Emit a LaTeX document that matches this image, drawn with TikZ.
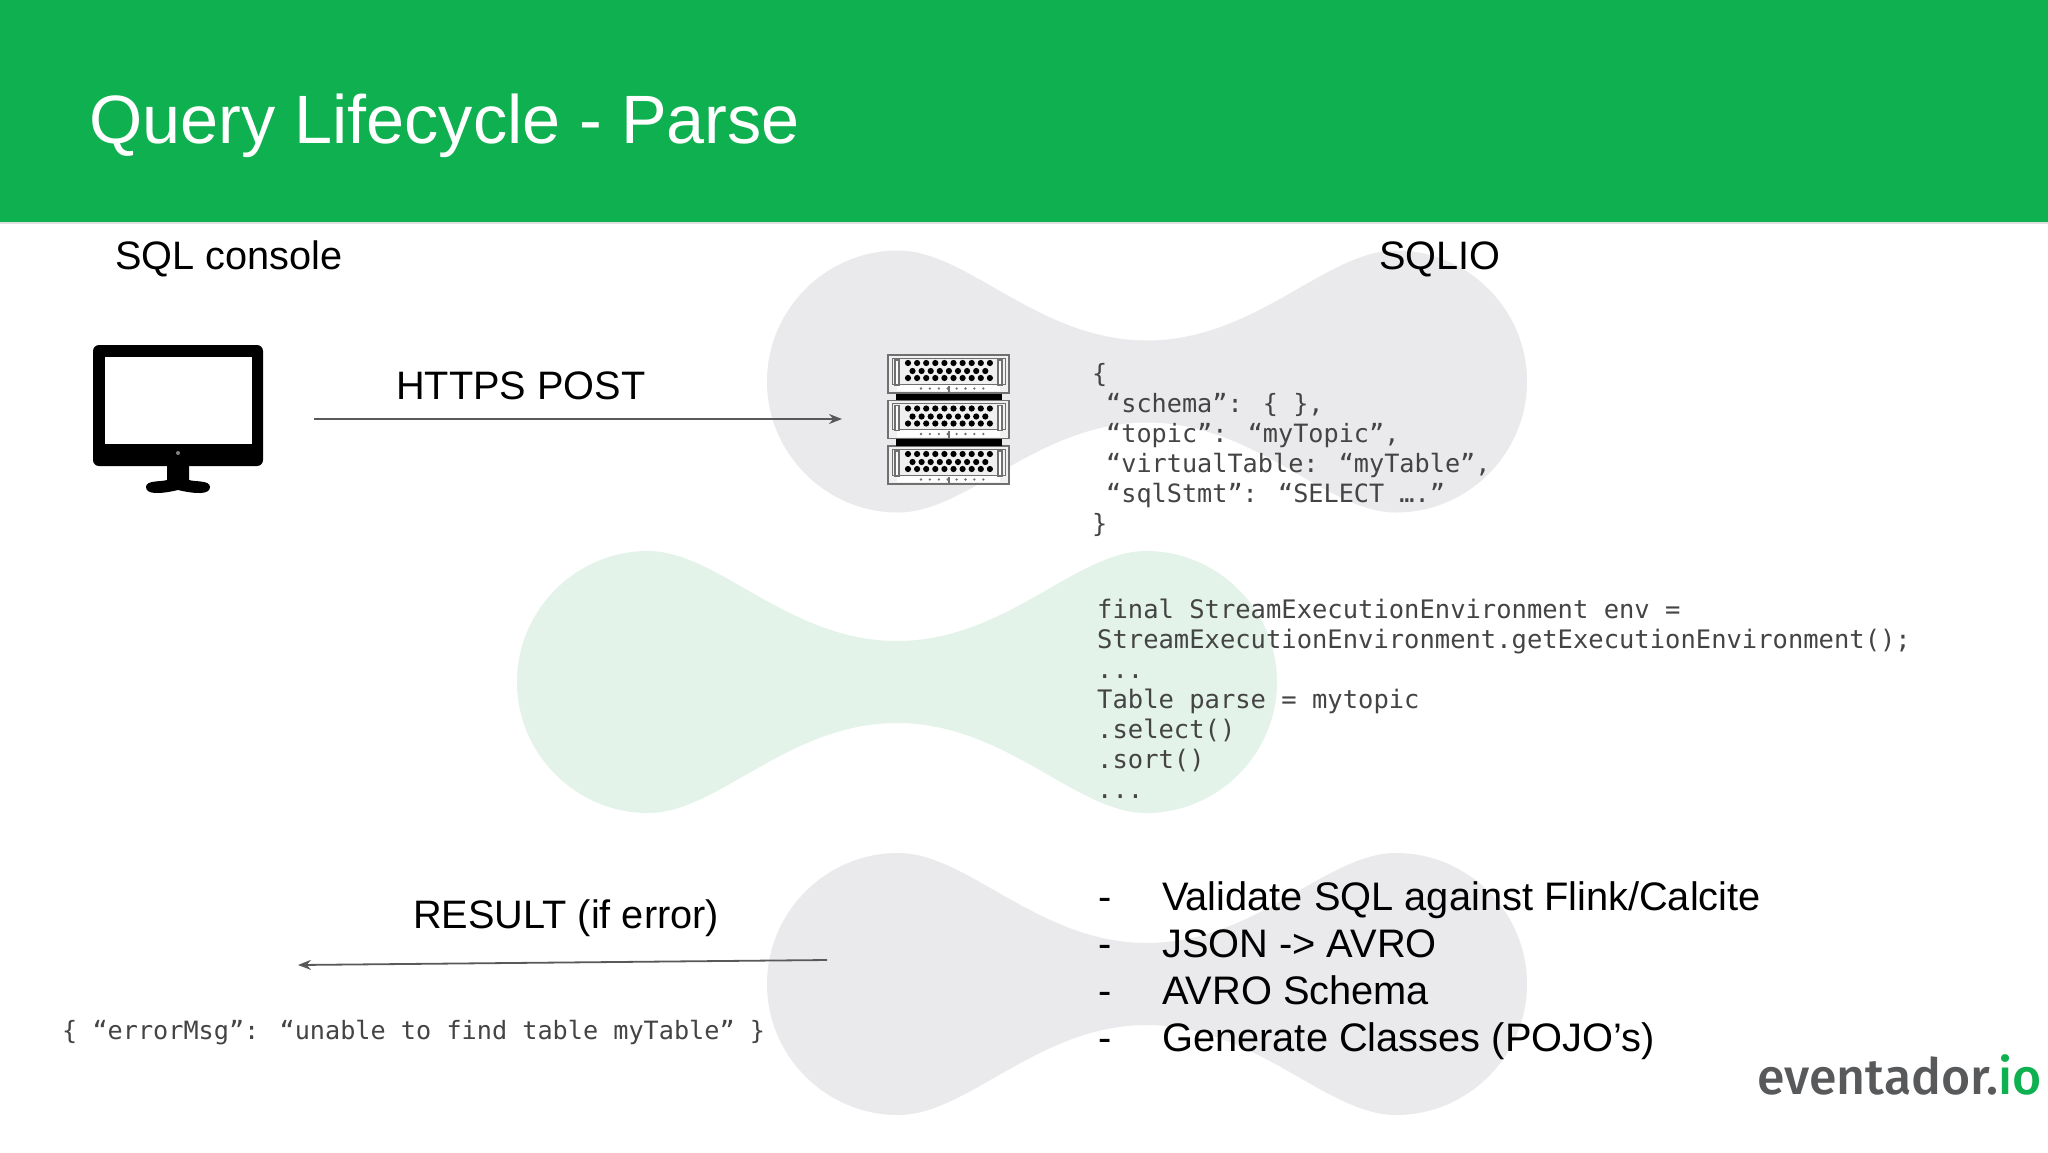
\documentclass[tikz,border=0pt]{standalone}
\usepackage{fontspec}
\setmainfont{Liberation Sans}
\newfontfamily\codefont{DejaVu Sans Mono}
\newfontfamily\logofont{Fira Sans Medium}
\usetikzlibrary{arrows.meta}
\definecolor{hdr}{HTML}{0EB04F}
\definecolor{blobgray}{HTML}{EAE9EB}
\definecolor{blobgreen}{HTML}{E3F3EA}
\definecolor{arrowgray}{HTML}{595959}
\definecolor{codegray}{HTML}{444444}
\definecolor{logogray}{HTML}{58595B}
\definecolor{framegray}{HTML}{707070}
\newcommand{\bonepath}[4]{%
 \fill[#4] (#1-131,#3) .. controls (#1-131,#3-72) and (#1-72,#3-131) .. (#1,#3-131)
 .. controls (#1+70,#3-131) and (#1+140,#3-41) .. ({(#1+#2)/2},#3-41)
 .. controls (#2-140,#3-41) and (#2-70,#3-131) .. (#2,#3-131)
 .. controls (#2+72,#3-131) and (#2+131,#3-72) .. (#2+131,#3)
 .. controls (#2+131,#3+72) and (#2+72,#3+131) .. (#2,#3+131)
 .. controls (#2-70,#3+131) and (#2-140,#3+41) .. ({(#1+#2)/2},#3+41)
 .. controls (#1+140,#3+41) and (#1+70,#3+131) .. (#1,#3+131)
 .. controls (#1-72,#3+131) and (#1-131,#3+72) .. (#1-131,#3) -- cycle;}
\newcommand{\rackunit}[1]{%
 \fill[white!94!black] (888,#1) rectangle (1009,#1+38);
 \fill[white] (897,#1+29) rectangle (1000,#1+36);
 \draw[framegray,line width=1.6pt] (888,#1) rectangle (1009,#1+38);
 \draw[framegray,line width=1pt] (892,#1+3) rectangle (1005,#1+29);
 \draw[framegray,line width=1.2pt,fill=white] (895,#1+5) rectangle (899,#1+30);
 \draw[framegray,line width=1.2pt,fill=white] (998,#1+5) rectangle (1002,#1+30);
 \foreach \i in {0,...,9} {
  \fill[black] (908+9.1*\i,#1+8) circle (3.1);
  \fill[black] (908+9.1*\i,#1+23) circle (3.1);
 }
 \foreach \i in {0,...,8} {
  \fill[black] (912.5+9.1*\i,#1+16) circle (3.1);
 }
 \foreach \i in {0,...,7} {
  \fill[framegray] (921+8.9*\i,#1+33.5) circle (1.3);
 }
 \fill[framegray] (948,#1+30.5) rectangle (949.5,#1+37);}
\tikzset{
 heading/.style={anchor=base west,inner sep=0pt,text=black,font=\fontsize{39.7}{46}\selectfont},
 codeblock/.style={anchor=north west,inner sep=0pt,align=left,text=codegray,font=\codefont\fontsize{25.2}{30}\selectfont},
 flow/.style={arrowgray,line width=1.8pt,-{Stealth[length=13pt,width=10pt]}},
 bulletline/.style={anchor=base west,inner sep=0pt,font=\fontsize{39.8}{47}\selectfont}
}
\begin{document}
\begin{tikzpicture}[x=1pt,y=-1pt]
\useasboundingbox (0,0) rectangle (2048,1152);
\fill[white] (0,0) rectangle (2048,1152);
\bonepath{898}{1396}{381.5}{blobgray}
\bonepath{648}{1146}{682}{blobgreen}
\bonepath{898}{1396}{984}{blobgray}
\fill[hdr] (0,0) rectangle (2048,222);
\fill[black!12] (0,222) rectangle (2048,224);
\node[anchor=base west,inner sep=0pt,text=white,font=\fontsize{68.4}{78}\selectfont] (title) at (89,143) {Query Lifecycle - Parse};
\node[heading] (console) at (115,269) {SQL console};
\node[heading] (sqlio) at (1379,269) {SQLIO};
\node[heading] (post) at (396,399) {HTTPS POST};
\node[heading] (result) at (413,928) {RESULT (if error)};
% monitor
\fill[black,rounded corners=6pt] (93,345) rectangle (263,466);
\fill[white] (105,357) rectangle (252,444);
\fill[black!50] (178,453) circle (2);
\fill[black] (167,464) -- (189,464) -- (189,480) .. controls (195,482) and (210,480) .. (210,487) .. controls (210,495) and (195,494) .. (178,490) .. controls (161,494) and (146,495) .. (146,487) .. controls (146,480) and (161,482) .. (167,480) -- cycle;
\node[inner sep=0pt,minimum width=170pt,minimum height=148pt] (monitor) at (178,419) {};
% server
\fill[black] (896,393) rectangle (1002,401);
\fill[black] (896,438) rectangle (1002,446);
\rackunit{355}
\rackunit{400.5}
\rackunit{446}
\fill[black] (896,393.5) rectangle (1002,400);
\fill[black] (896,439) rectangle (1002,445.5);
\node[inner sep=0pt,minimum width=121pt,minimum height=129pt] (server) at (948,419) {};
% arrows
\coordinate (postfrom) at (314,419);
\coordinate (postto) at (842,419);
\coordinate (resfrom) at (827,960);
\coordinate (resto) at (298,965);
\draw[flow] (postfrom) -- (postto);
\draw[flow] (resfrom) -- (resto);
% code
\node[codeblock] (json) at (1092,363) {\{\\
\hspace*{14pt}“schema”: \{ \},\\
\hspace*{14pt}“topic”: “myTopic”,\\
\hspace*{14pt}“virtualTable: “myTable”,\\
\hspace*{14pt}“sqlStmt”: “SELECT ….”\\
\}};
\node[codeblock,font=\codefont\fontsize{25.5}{30}\selectfont] (java) at (1097,599) {final StreamExecutionEnvironment env =\\
StreamExecutionEnvironment.getExecutionEnvironment();\\
...\\
Table parse = mytopic\\
.select()\\
.sort()\\
...};
\node[codeblock] (err) at (62,1020) {\{ “errorMsg”: “unable to find table myTable” \}};
% bullets
\foreach \yy/\tx/\nm in {910/Validate SQL against Flink\slash Calcite/a,957/JSON -> AVRO/b,1004/AVRO Schema/c,1051/Generate Classes (POJO’s)/d} {
 \node[bulletline] (bul\nm) at (1162,\yy) {\tx};
 \node[bulletline] (dash\nm) at (1098,\yy) {-};
}
\node[anchor=base west,inner sep=0pt,font=\logofont\fontsize{50}{56}\selectfont] (logo) at (1757,1094) {\textcolor{logogray}{eventador.}\textcolor{hdr}{io}};
\end{tikzpicture}
\end{document}
